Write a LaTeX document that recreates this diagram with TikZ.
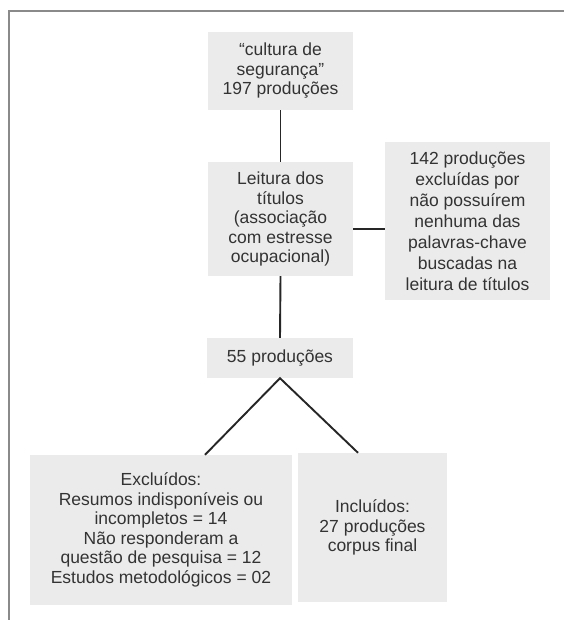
\documentclass[tikz,border=0pt]{standalone}
\usepackage{fontspec}
\setmainfont{Liberation Sans}
\begin{document}
\begin{tikzpicture}[x=1pt,y=-1pt,
  flowbox/.style={fill=boxgray, text=textgray, align=center, inner sep=0pt,
    font=\fontsize{17.5}{19.5}\selectfont, anchor=center},
  link/.style={draw=linegray, line width=1.9pt}]
\definecolor{boxgray}{HTML}{EBEBEB}
\definecolor{textgray}{HTML}{333333}
\definecolor{linegray}{HTML}{262626}
\definecolor{framegray}{HTML}{8A8A8A}
\useasboundingbox (0,0) rectangle (564,620);
\fill[white] (0,0) rectangle (564,620);
\draw[framegray, line width=1.5pt] (9,620) -- (9,11) -- (564,11);

\node[flowbox, minimum width=145pt, minimum height=78pt] (b1) at (280.5,71)
  {``cultura de\\segurança''\\197 produções};
\node[flowbox, minimum width=145pt, minimum height=114pt] (b2) at (280.5,219)
  {Leitura dos\\títulos\\(associação\\com estresse\\ocupacional)};
\node[flowbox, minimum width=165pt, minimum height=158pt,
  font=\fontsize{17.5}{21}\selectfont] (b3) at (467.5,221)
  {142 produções\\excluídas por\\não possuírem\\nenhuma das\\palavras-chave\\buscadas na\\leitura de títulos};
\node[flowbox, minimum width=146pt, minimum height=40pt] (b4) at (280,358)
  {55 produções};
\node[flowbox, minimum width=262pt, minimum height=150pt] (b5) at (161,530)
  {Excluídos:\\Resumos indisponíveis ou\\incompletos = 14\\Não responderam a\\questão de pesquisa = 12\\Estudos metodológicos = 02};
\node[flowbox, minimum width=149pt, minimum height=149pt] (b6) at (372.5,527.5)
  {Incluídos:\\27 produções\\corpus final};

\draw[link] (b1.south) -- (b2.north);
\draw[link] ([yshift=-10pt]b2.east) -- ([yshift=-10pt]b2.east -| b3.west);
\draw[link] (b2.south) -- (b4.north);
\draw[link] ([xshift=44pt]b5.north) -- (b4.south) -- ([xshift=-14.5pt]b6.north);
\end{tikzpicture}
\end{document}
